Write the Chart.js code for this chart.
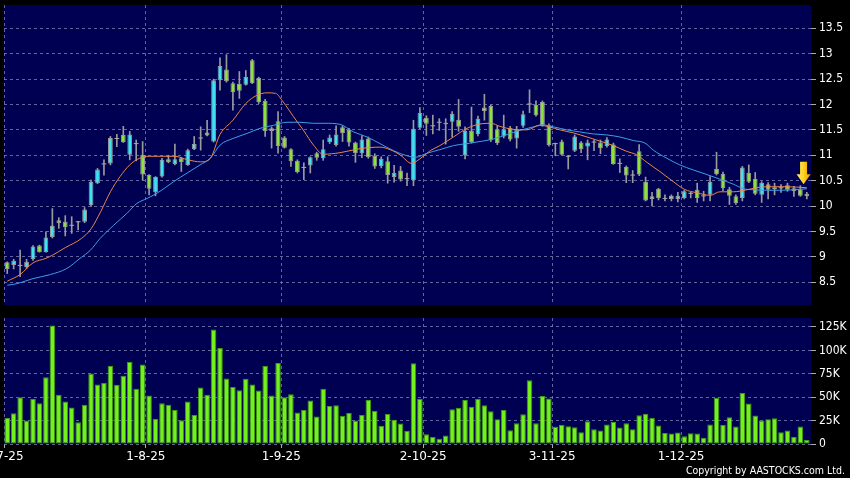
<!DOCTYPE html>
<html>
<head>
<meta charset="utf-8">
<script src="https://cdn.jsdelivr.net/npm/chart.js@4.4.1/dist/chart.umd.min.js"></script>
<style>
  html, body { margin: 0; padding: 0; background: #000; }
  #wrap { position: relative; width: 850px; height: 478px; overflow: hidden; background: #000; }
  #priceChart { position: absolute; left: 0; top: 0; }
  #volChart { position: absolute; left: 0; top: 312px; }
  #copy { position: absolute; right: 5px; top: 464px; color: #fff;
          font: 10.5px "DejaVu Sans Condensed", "DejaVu Sans", sans-serif; }
</style>
</head>
<body>
<div id="wrap">
  <canvas id="priceChart" width="850" height="310"></canvas>
  <canvas id="volChart" width="850" height="166"></canvas>
  <div id="copy">Copyright by AASTOCKS.com Ltd.</div>
</div>
<script>
// daily candles, 2 Jul 2025 .. end Dec 2025
const opens = [8.89,8.84,8.82,8.80,8.95,9.22,9.09,9.39,9.72,9.69,
  9.61,9.68,9.69,10.02,10.45,10.82,10.84,11.32,11.40,11.01,
  11.22,11.01,10.61,10.27,10.58,10.92,10.83,10.94,10.81,11.12,
  11.33,11.45,11.27,12.48,12.69,12.42,12.41,12.39,12.87,12.52,
  12.07,11.53,11.67,11.35,11.12,10.89,10.75,10.80,11.04,10.94,
  11.26,11.20,11.55,11.50,11.25,11.04,11.33,10.99,10.79,10.88,
  10.57,10.70,10.53,10.51,11.54,11.74,11.57,11.64,11.64,11.66,
  11.70,11.00,11.49,11.42,11.94,11.97,11.51,11.37,11.54,11.33,
  11.58,12.00,11.99,12.05,11.59,11.22,11.27,10.97,11.09,11.25,
  11.17,11.25,11.25,11.18,11.21,10.83,10.77,10.60,11.08,10.48,
  10.14,10.34,10.14,10.20,10.14,10.16,10.24,10.32,10.19,10.22,
  10.73,10.63,10.33,10.19,10.16,10.65,10.53,10.22,10.43,10.33,
  10.35,10.41,10.35,10.33,10.24];
const highs = [8.90,8.95,9.13,8.95,9.22,9.23,9.49,9.95,9.77,9.81,
  9.79,9.70,9.97,10.51,10.74,10.91,11.37,11.41,11.57,11.47,
  11.30,11.27,10.62,10.58,10.94,11.00,11.22,10.96,11.12,11.37,
  11.56,11.69,12.50,12.92,12.98,12.44,12.65,12.67,12.89,12.54,
  12.10,11.56,11.86,11.37,11.13,10.91,10.85,10.97,11.06,11.30,
  11.40,11.58,11.58,11.53,11.26,11.39,11.36,11.03,10.97,10.97,
  10.80,10.78,10.65,11.69,11.94,11.78,11.79,11.72,11.72,11.86,
  12.10,11.56,11.95,11.77,12.20,11.99,11.58,11.79,11.57,11.57,
  11.87,12.29,12.07,12.07,11.62,11.24,11.30,11.00,11.40,11.27,
  11.30,11.30,11.30,11.35,11.24,10.93,10.79,10.70,11.21,10.57,
  10.27,10.35,10.22,10.22,10.27,10.31,10.27,10.45,10.29,10.58,
  11.06,10.67,10.37,10.22,10.78,10.81,10.66,10.48,10.46,10.45,
  10.42,10.45,10.39,10.40,10.27];
const lows = [8.67,8.76,8.61,8.77,8.93,9.09,9.09,9.37,9.56,9.41,
  9.46,9.53,9.67,9.99,10.44,10.61,10.81,11.17,11.25,10.91,
  10.89,10.51,10.22,10.20,10.57,10.85,10.81,10.68,10.80,11.11,
  11.10,11.38,11.26,12.28,12.44,11.89,12.12,12.38,12.41,12.02,
  11.37,11.14,11.04,11.14,10.78,10.65,10.52,10.65,10.90,10.90,
  11.23,11.18,11.27,11.18,10.86,10.95,10.94,10.74,10.75,10.45,
  10.47,10.49,10.40,10.40,11.52,11.39,11.42,11.49,11.22,11.36,
  11.47,10.93,11.24,11.38,11.69,11.27,11.21,11.34,11.28,11.14,
  11.55,11.84,11.77,11.57,11.18,10.99,11.00,10.73,11.07,11.05,
  10.91,11.09,11.03,11.16,10.82,10.66,10.46,10.46,10.60,10.10,
  10.00,10.12,10.10,10.10,10.08,10.14,10.16,10.07,10.10,10.10,
  10.61,10.30,10.03,10.03,10.10,10.46,10.22,10.07,10.14,10.22,
  10.27,10.29,10.19,10.19,10.14];
const closes = [8.76,8.92,8.82,8.90,9.20,9.09,9.38,9.61,9.66,9.58,
  9.61,9.68,9.93,10.48,10.72,10.82,11.34,11.32,11.26,11.41,
  11.22,10.62,10.34,10.57,10.91,10.86,10.92,10.86,11.10,11.22,
  11.33,11.39,12.48,12.76,12.46,12.24,12.27,12.54,12.42,12.05,
  11.48,11.48,11.18,11.15,10.88,10.67,10.75,10.96,10.95,11.12,
  11.35,11.41,11.44,11.25,11.04,11.31,10.96,10.78,10.93,10.61,
  10.65,10.52,10.53,11.52,11.83,11.62,11.57,11.64,11.61,11.82,
  11.56,11.48,11.26,11.72,11.87,11.30,11.24,11.51,11.31,11.50,
  11.81,12.00,11.79,11.59,11.20,11.22,11.01,10.97,11.37,11.12,
  11.25,11.25,11.14,11.31,10.83,10.83,10.60,10.60,10.62,10.11,
  10.19,10.16,10.14,10.14,10.20,10.29,10.24,10.16,10.19,10.48,
  10.63,10.35,10.20,10.06,10.76,10.48,10.24,10.46,10.32,10.37,
  10.35,10.32,10.29,10.20,10.19];
// volume in thousands of shares
const volumesK = [27.8,32.8,50,25,48,43.5,71.4,126.7,52.5,45.3,
  38.9,23.2,41.8,75.3,63.5,65.3,83.5,63.2,72.8,87.5,
  58.9,85,51.8,27.1,43.5,41.8,36.4,25.3,45.3,31.1,
  60.3,52.5,122.4,102.5,70,61,57.5,69.6,63.5,57.1,
  83.2,51.8,86.4,50,53.2,33.6,36.4,46.4,29.3,58.9,
  40.7,41.4,30.3,33.2,25,31.1,47.1,35.3,19.6,32.1,
  26,21.8,14.2,86.3,48.3,10.4,7.5,5.7,9,37.2,
  38.7,46.9,39.7,48,41.5,35.1,26.5,36.2,14.7,22.2,
  31.9,68,22.2,51.2,48.7,18.3,20.4,19,17.9,12.5,
  24.3,15.8,14.3,20.8,23.6,17.5,22.2,15.8,30.8,32.2,
  27.9,19.7,11.8,11.1,12.2,8.2,11.5,11.1,6.8,20.8,
  49.4,20.4,28.6,18.6,54.4,43.3,30.4,25,26.5,27.6,
  12.5,14.3,7.5,18.6,4.3];

// moving averages at these candle positions
const ma10Idx = [0,2,4,6,7,9,11.5,13,14.5,16,17.5,19,20.5,22,24,26,28,30,31.5,33,
  35,37,38.7,40.3,41.6,42.8,44.4,46,47.5,49,51.6,54.7,57.8,59.4,61,62.7,64,65.6,67.1,69.2,
  71.3,73.5,75,76.4,78.4,80.6,82.6,84,85.7,87.8,89.9,91.9,94,96,97.6,99.2,101.2,103.3,105,107,
  109,110.5,112.6,114.7,116.7,118.8,120.9,124];
const ma10 = [8.52,8.65,8.88,8.97,9.03,9.18,9.36,9.55,9.89,10.28,10.58,10.81,10.94,10.98,10.98,10.98,10.91,10.87,10.94,11.41,
  11.69,12.02,12.18,12.23,12.22,12.05,11.76,11.48,11.20,11.02,11.05,11.13,11.16,11.11,11.00,10.84,10.93,11.09,11.19,11.36,
  11.53,11.62,11.63,11.57,11.51,11.50,11.59,11.56,11.50,11.44,11.36,11.28,11.19,11.08,11.01,10.86,10.68,10.48,10.33,10.26,
  10.21,10.28,10.28,10.32,10.37,10.38,10.38,10.36];
const ma20Idx = [0,1.5,4,6.7,9.25,11.3,12.9,14.4,16.5,18.6,20.1,21.7,23.2,24.5,25.8,27.9,29.9,31.5,33,35,
  37.2,39.2,41.3,43.4,45.4,47.5,49.3,51.6,53.7,55.8,57.8,59.9,62,63.3,65.1,67.1,69.2,71.3,73.8,75.4,
  77.5,79.5,81.6,82.9,84.7,86.8,88.8,90.9,93,95,97.1,98.9,100.2,102.3,104.3,106.4,108.5,110.5,112.6,114.2,
  115.7,117.8,119.8,121.9,124];
const ma20 = [8.44,8.47,8.57,8.65,8.77,8.97,9.13,9.36,9.62,9.86,10.05,10.15,10.25,10.36,10.48,10.65,10.81,10.94,11.20,11.33,
  11.43,11.53,11.59,11.65,11.65,11.63,11.63,11.61,11.46,11.36,11.23,11.09,10.99,10.96,11.04,11.11,11.19,11.23,11.28,11.32,
  11.41,11.49,11.56,11.60,11.56,11.50,11.46,11.42,11.40,11.36,11.29,11.24,11.10,10.94,10.81,10.71,10.62,10.53,10.43,10.34,
  10.32,10.31,10.31,10.32,10.34];

// axis ticks (month boundaries sit between candles)
const monthTicks = [-0.5, 21.5, 42.5, 64.5, 84.5, 104.5];
const monthLabels = ['2-7-25', '1-8-25', '1-9-25', '2-10-25', '3-11-25', '1-12-25'];
const priceTicks = [8.5, 9, 9.5, 10, 10.5, 11, 11.5, 12, 12.5, 13, 13.5];
const volTicks = [0, 25, 50, 75, 100, 125];
const volLabels = ['0', '25K', '50K', '75K', '100K', '125K'];

// latest-candle marker
const arrowAt = 123.5, arrowFrom = 10.87, arrowTo = 10.43;

const xMin = -0.5, xMax = 124.65;
const priceMin = 8.05, priceMax = 13.96;
const volMax = 134.6;

const NAVY = '#000052';
const GRID = 'rgba(125,125,175,0.8)';
const CYAN = '#3ee4f4', GREEN = '#8ee23c', DOJI = '#a8a8a8', EDGE = '#9a9a9a';
const FONT = { family: '"DejaVu Sans Condensed", "DejaVu Sans", sans-serif', size: 12 };
const DATE_FONT = { family: '"DejaVu Sans", sans-serif', size: 12 };

const idx = opens.map((_, i) => i);
const candleColor = i => closes[i] > opens[i] ? CYAN : (closes[i] < opens[i] ? GREEN : DOJI);

// navy plot area
const plotBg = {
  id: 'plotBg',
  beforeDraw(chart) {
    const { ctx, chartArea: a } = chart;
    ctx.save();
    ctx.fillStyle = NAVY;
    ctx.fillRect(a.left, a.top, a.right - a.left, a.bottom - a.top);
    ctx.restore();
  }
};

const arrowMark = {
  id: 'arrowMark',
  afterDatasetsDraw(chart) {
    const { ctx, scales: { x, y } } = chart;
    const cx = x.getPixelForValue(arrowAt);
    const top = y.getPixelForValue(arrowFrom);
    const tip = y.getPixelForValue(arrowTo);
    const g = ctx.createLinearGradient(cx - 7, 0, cx + 7, 0);
    g.addColorStop(0, '#fff07a');
    g.addColorStop(0.5, '#ffd21e');
    g.addColorStop(1, '#e09a00');
    ctx.save();
    ctx.fillStyle = g;
    ctx.beginPath();
    ctx.moveTo(cx - 3.5, top);
    ctx.lineTo(cx + 3.5, top);
    ctx.lineTo(cx + 3.5, tip - 10);
    ctx.lineTo(cx + 7, tip - 10);
    ctx.lineTo(cx, tip);
    ctx.lineTo(cx - 7, tip - 10);
    ctx.lineTo(cx - 3.5, tip - 10);
    ctx.closePath();
    ctx.fill();
    ctx.restore();
  }
};

// fixed axis sizes so both panels line up, labels may run off the edge
function fixBox(size) {
  return scale => {
    scale.paddingLeft = 0; scale.paddingRight = 0;
    scale.paddingTop = 0; scale.paddingBottom = 0;
    if (scale.isHorizontal()) scale.height = size; else scale.width = size;
  };
}

function xAxis(withLabels) {
  return {
    type: 'linear', min: xMin, max: xMax, offset: false,
    afterBuildTicks: s => { s.ticks = monthTicks.map(v => ({ value: v })); },
    afterFit: fixBox(withLabels ? 34 : 0),
    ticks: {
      display: withLabels, color: '#fff', font: DATE_FONT, padding: 2,
      autoSkip: false, maxRotation: 0,
      callback: v => monthLabels[monthTicks.indexOf(v)]
    },
    grid: { offset: false, color: GRID, drawTicks: withLabels, tickLength: 4, tickColor: '#aaa' },
    border: { display: false, dash: [3, 3] }
  };
}

const baseOpts = {
  responsive: false,
  animation: false,
  events: [],
  plugins: { legend: { display: false }, tooltip: { enabled: false } }
};

new Chart(document.getElementById('priceChart'), {
  type: 'bar',
  data: {
    datasets: [
      {
        type: 'line', label: 'MA10',
        data: ma10Idx.map((x, k) => ({ x, y: ma10[k] })),
        borderColor: '#ec8648', borderWidth: 1, pointRadius: 0,
        cubicInterpolationMode: 'monotone', order: 0
      },
      {
        type: 'line', label: 'MA20',
        data: ma20Idx.map((x, k) => ({ x, y: ma20[k] })),
        borderColor: '#3c9ee8', borderWidth: 1, pointRadius: 0,
        cubicInterpolationMode: 'monotone', order: 1
      },
      {
        label: 'body',
        data: idx.map(i => ({ x: i, y: [opens[i], closes[i]] })),
        backgroundColor: c => candleColor(c.dataIndex),
        borderColor: EDGE,
        borderWidth: c => (opens[c.dataIndex] === closes[c.dataIndex] ? 0 : 1),
        borderSkipped: false,
        barPercentage: 0.74, categoryPercentage: 1,
        minBarLength: 1, grouped: false, order: 2
      },
      {
        label: 'wick',
        data: idx.map(i => ({ x: i, y: [lows[i], highs[i]] })),
        backgroundColor: EDGE,
        barThickness: 1, grouped: false, order: 3
      }
    ]
  },
  options: {
    ...baseOpts,
    layout: { padding: { left: 4, top: 5, right: 0, bottom: 5 } },
    scales: {
      x: xAxis(false),
      y: {
        position: 'right', min: priceMin, max: priceMax,
        afterBuildTicks: s => { s.ticks = priceTicks.map(v => ({ value: v })); },
        afterFit: fixBox(39),
        ticks: { color: '#fff', font: FONT, padding: 3, callback: v => String(v) },
        grid: { color: GRID, drawTicks: true, tickLength: 5, tickColor: '#aaa' },
        border: { display: false, dash: [3, 3] }
      }
    }
  },
  plugins: [plotBg, arrowMark]
});

new Chart(document.getElementById('volChart'), {
  type: 'bar',
  data: {
    datasets: [{
      label: 'Volume',
      data: idx.map(i => ({ x: i, y: volumesK[i] })),
      backgroundColor: '#74f01c',
      borderColor: '#3f9a12',
      borderWidth: 1,
      borderSkipped: false,
      barPercentage: 0.86, categoryPercentage: 1
    }]
  },
  options: {
    ...baseOpts,
    layout: { padding: { left: 4, top: 6, right: 0, bottom: 0 } },
    scales: {
      x: xAxis(true),
      y: {
        position: 'right', min: 0, max: volMax,
        afterBuildTicks: s => { s.ticks = volTicks.map(v => ({ value: v })); },
        afterFit: fixBox(39),
        ticks: { color: '#fff', font: FONT, padding: 3, callback: v => volLabels[volTicks.indexOf(v)] },
        grid: { color: GRID, drawTicks: true, tickLength: 5, tickColor: '#aaa' },
        border: { display: false, dash: [3, 3] }
      }
    }
  },
  plugins: [plotBg]
});
</script>
</body>
</html>
